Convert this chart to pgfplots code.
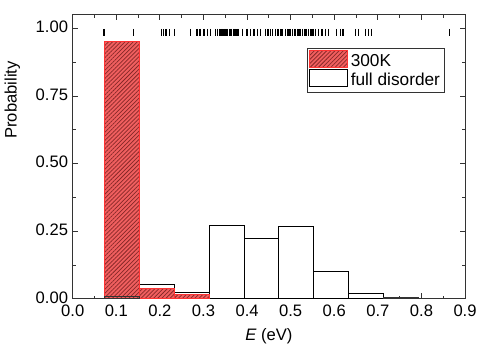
\documentclass[border=0pt]{standalone}
\usepackage{fontspec}
\setmainfont{Liberation Sans}
\usepackage{pgfplots}
\pgfplotsset{compat=1.18}
\usetikzlibrary{patterns,patterns.meta}
\definecolor{barred}{RGB}{240,95,95}
\definecolor{hatch}{RGB}{135,40,40}
\definecolor{edgered}{RGB}{255,50,50}
\begin{document}
\begin{tikzpicture}
\begin{axis}[
  name=main,
  scale only axis,
  width=295.5pt, height=213.75pt,
  xmin=0, xmax=0.9, ymin=0, ymax=1.05,
  xtick={0,0.1,...,0.9},
  ytick={0,0.25,0.5,0.75,1.0},
  minor x tick num=1,
  minor y tick num=1,
  tick align=inside,
  major tick length=4pt,
  minor tick length=2.2pt,
  xticklabel style={yshift=-1pt, /pgf/number format/.cd,fixed,fixed zerofill,precision=1},
  yticklabel style={yshift=1pt, /pgf/number format/.cd,fixed,fixed zerofill,precision=2},
  /pgf/number format/assume math mode=true,
  tick label style={font=\fontsize{12.5}{14}\selectfont},
  label style={font=\fontsize{12.5}{14}\selectfont},
  xlabel={\textit{E} (eV)},
  ylabel={Probability},
  xlabel style={at={(axis description cs:0.5,-0.089)}, anchor=north},
  ylabel style={at={(axis description cs:-0.122,0.70)}, anchor=south},
  axis line style={line width=0.7pt, black!80},
  every tick/.style={black!80, line width=0.6pt},
  legend style={at={(rel axis cs:0.949,0.885)}, anchor=north east,
    font=\fontsize{13}{15}\selectfont, draw=black!80, line width=0.6pt,
    inner sep=1.5pt, row sep=-1pt},
  legend cell align=left,
  reverse legend=true,
  legend image code/.code={\draw[#1] (0cm,-0.17cm) rectangle (1.0cm,0.28cm);},
]
% full disorder (drawn first, behind)
\addplot[ybar interval, fill=white, draw=black, line width=0.7pt] coordinates {
  (0.073,0.010) (0.153,0.053) (0.233,0.025) (0.313,0.272) (0.393,0.224)
  (0.473,0.268) (0.553,0.102) (0.633,0.018) (0.713,0.006) (0.793,0)
};
\addlegendentry{full disorder}
% 300K
\addplot[ybar interval, fill=barred, draw=edgered, line width=0.7pt,
  postaction={pattern={Lines[angle=45, distance=2.2pt, line width=0.55pt]}, pattern color=hatch}] coordinates {
  (0.073,0.952) (0.153,0.037) (0.233,0.016) (0.313,0)
};
\addlegendentry{300K}
% outline of small full-disorder bar over red
\addplot[ybar interval, fill=none, draw=black!80, line width=0.6pt, forget plot] coordinates {
  (0.073,0.010) (0.153,0)
};
% gray thin bar
\addplot[ybar interval, fill=gray, draw=black!80, line width=0.6pt, forget plot] coordinates {
  (0.713,0.006) (0.793,0)
};
% rug of energies
\addplot[only marks, mark=|, mark size=2.6pt, mark options={line width=0.9pt, black}, forget plot] table[row sep=\\] {
x y\\
0.072 0.986\\ 0.140 0.986\\ 0.204 0.986\\ 0.209 0.986\\ 0.214 0.986\\ 0.222 0.986\\ 0.233 0.986\\
0.271 0.986\\ 0.285 0.986\\ 0.292 0.986\\ 0.301 0.986\\ 0.309 0.986\\ 0.317 0.986\\ 0.328 0.986\\
0.332 0.986\\ 0.336 0.986\\ 0.340 0.986\\ 0.343 0.986\\ 0.347 0.986\\ 0.350 0.986\\ 0.353 0.986\\
0.356 0.986\\ 0.359 0.986\\ 0.362 0.986\\ 0.365 0.986\\ 0.368 0.986\\ 0.371 0.986\\ 0.374 0.986\\
0.377 0.986\\ 0.380 0.986\\ 0.389 0.986\\ 0.400 0.986\\ 0.408 0.986\\ 0.416 0.986\\ 0.423 0.986\\
0.431 0.986\\ 0.442 0.986\\ 0.446 0.986\\ 0.450 0.986\\ 0.454 0.986\\ 0.458 0.986\\ 0.465 0.986\\
0.469 0.986\\ 0.473 0.986\\ 0.477 0.986\\ 0.480 0.986\\ 0.488 0.986\\ 0.492 0.986\\ 0.496 0.986\\
0.500 0.986\\ 0.504 0.986\\ 0.508 0.986\\ 0.511 0.986\\ 0.515 0.986\\ 0.519 0.986\\ 0.523 0.986\\
0.527 0.986\\ 0.531 0.986\\ 0.534 0.986\\ 0.537 0.986\\ 0.541 0.986\\ 0.545 0.986\\ 0.549 0.986\\
0.553 0.986\\ 0.557 0.986\\ 0.564 0.986\\ 0.572 0.986\\ 0.579 0.986\\ 0.587 0.986\\ 0.606 0.986\\
0.614 0.986\\ 0.618 0.986\\ 0.621 0.986\\ 0.648 0.986\\ 0.656 0.986\\ 0.671 0.986\\ 0.678 0.986\\
0.685 0.986\\ 0.865 0.986\\
};
\end{axis}
\path ([shift={(-54.75pt,-33.75pt)}]main.south west) rectangle ([shift={(10.5pt,11.25pt)}]main.north east);
\end{tikzpicture}
\end{document}
